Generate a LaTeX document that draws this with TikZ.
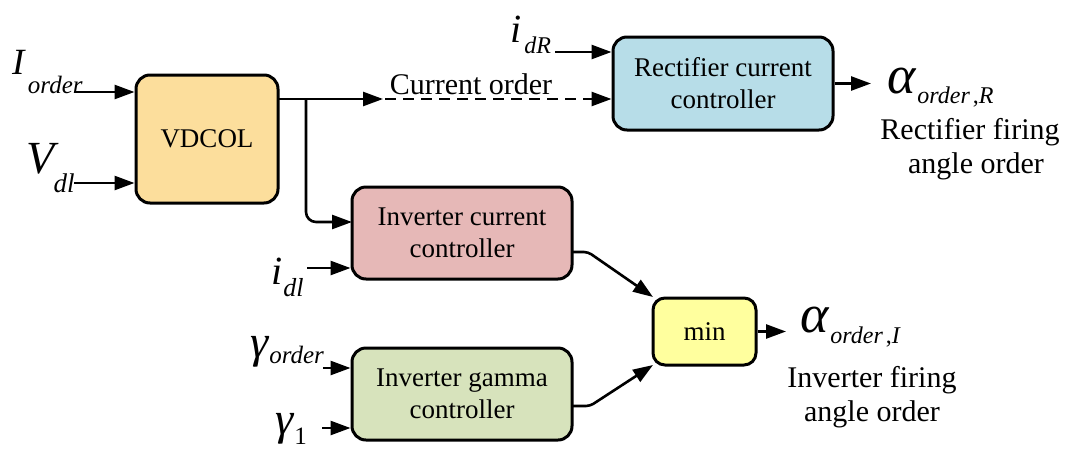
\documentclass[tikz,border=0pt]{standalone}
\usepackage{fontspec}
\setmainfont{Liberation Serif}
\usetikzlibrary{arrows.meta,calc}
\definecolor{vdcolfill}{HTML}{FCDE9C}
\definecolor{rectfill}{HTML}{B7DDE8}
\definecolor{invfill}{HTML}{E6B8B7}
\definecolor{gamfill}{HTML}{D7E3BC}
\definecolor{minfill}{HTML}{FFFF9E}
\begin{document}
\begin{tikzpicture}[x=1pt,y=-1pt,
  blk/.style={draw=black,line width=3pt,rounded corners=14pt,align=center,
    font=\fontsize{27}{32}\selectfont,inner sep=0pt},
  wire/.style={line width=2.6pt,-{Triangle[length=20pt,width=14pt]}},
  lab/.style={anchor=base west,inner sep=0pt},
  txt/.style={anchor=base,inner sep=0pt,font=\fontsize{30}{30}\selectfont}]
\useasboundingbox (0,0) rectangle (1074,448);

% blocks
\node[blk,fill=vdcolfill,minimum width=142pt,minimum height=128pt] (vd) at (207,139) {VDCOL};
\node[blk,fill=rectfill,minimum width=220pt,minimum height=93pt] (rc) at (723,83.5) {Rectifier current\\controller};
\node[blk,fill=invfill,minimum width=220pt,minimum height=92pt] (ic) at (462,233) {Inverter current\\controller};
\node[blk,fill=gamfill,minimum width=220pt,minimum height=92pt] (gc) at (462,394) {Inverter gamma\\controller};
\node[blk,fill=minfill,minimum width=103pt,minimum height=67pt,rounded corners=12pt] (mn) at (704.5,331.5) {min};

% signal labels
\node[lab] (iord) at (12,74) {\fontsize{37}{37}\selectfont\textit{I}\hspace{2pt}\raisebox{-19pt}{\fontsize{25}{25}\selectfont\textit{order}}};
\node[lab] (vdl) at (26,173) {\fontsize{46}{46}\selectfont\textit{V}\hspace{-5pt}\raisebox{-19pt}{\fontsize{27}{27}\selectfont\textit{dl}}};
\node[lab] (idr) at (510,42) {\fontsize{40}{40}\selectfont\textit{i}\hspace{3pt}\raisebox{-11pt}{\fontsize{24}{24}\selectfont\textit{dR}}};
\node[lab] (alr) at (887,93) {\fontsize{54}{54}\selectfont\textit{α}\hspace{1pt}\raisebox{-10pt}{\fontsize{24}{24}\selectfont\textit{order}\hspace{3pt},\textit{R}}};
\node[lab] (idl) at (271,284) {\fontsize{40}{40}\selectfont\textit{i}\hspace{1pt}\raisebox{-12pt}{\fontsize{26}{26}\selectfont\textit{dl}}};
\node[lab] (gor) at (250,357) {\fontsize{46}{46}\selectfont\textit{γ}\hspace{0pt}\raisebox{-6pt}{\fontsize{25}{25}\selectfont\textit{order}}};
\node[lab] (gon) at (275,434) {\fontsize{46}{46}\selectfont\textit{γ}\hspace{0pt}\raisebox{-10pt}{\fontsize{25}{25}\selectfont 1}};
\node[lab] (ali) at (800,332) {\fontsize{54}{54}\selectfont\textit{α}\hspace{1pt}\raisebox{-11pt}{\fontsize{24}{24}\selectfont\textit{order}\hspace{3pt},\textit{I}}};

\node[txt] (curord) at (471,94) {Current order};
\node[txt] (rf1) at (970,139) {Rectifier firing};
\node[txt] (rf2) at (976,173) {angle order};
\node[txt] (if1) at (872,387) {Inverter firing};
\node[txt] (if2) at (872,421) {angle order};

% wire end points
\coordinate (iordin) at (74,92);
\coordinate (vdlin) at (74,183);
\coordinate (vdout) at (278,99);
\coordinate (split) at (306,99);
\coordinate (co) at (385,99);
\coordinate (idrin) at (555,52);
\coordinate (alrend) at (871,83.5);
\coordinate (icin) at (352,222);
\coordinate (idlin) at (307,268);
\coordinate (gorin) at (323,368);
\coordinate (gonin) at (322,428);
\coordinate (icout) at (572,252);
\coordinate (icbend) at (588,252);
\coordinate (gcout) at (572,406);
\coordinate (gcbend) at (590,406);
\coordinate (mnin1) at (653,297);
\coordinate (mnin2) at (653,365);
\coordinate (aliend) at (786,331.5);

% connectors
\draw[wire] (iordin) -- (iordin -| vd.west);
\draw[wire] (vdlin) -- (vdlin -| vd.west);
\draw[wire] (vdout) -- ($(co)+(-2,0)$);
\draw[wire,dash pattern=on 11pt off 7pt] (co) -- (co -| rc.west);
\draw[wire,rounded corners=10pt] (split) |- (icin);
\draw[wire] (idrin) -- (idrin -| rc.west);
\draw[wire] (rc.east) -- (alrend);
\draw[wire] (idlin) -- (idlin -| ic.west);
\draw[wire] (gorin) -- (gorin -| gc.west);
\draw[wire] (gonin) -- (gonin -| gc.west);
\draw[wire,rounded corners=4pt] (icout) -- (icbend) -- (mnin1);
\draw[wire,rounded corners=4pt] (gcout) -- (gcbend) -- (mnin2);
\draw[wire] (mn.east) -- (aliend);
\end{tikzpicture}
\end{document}
